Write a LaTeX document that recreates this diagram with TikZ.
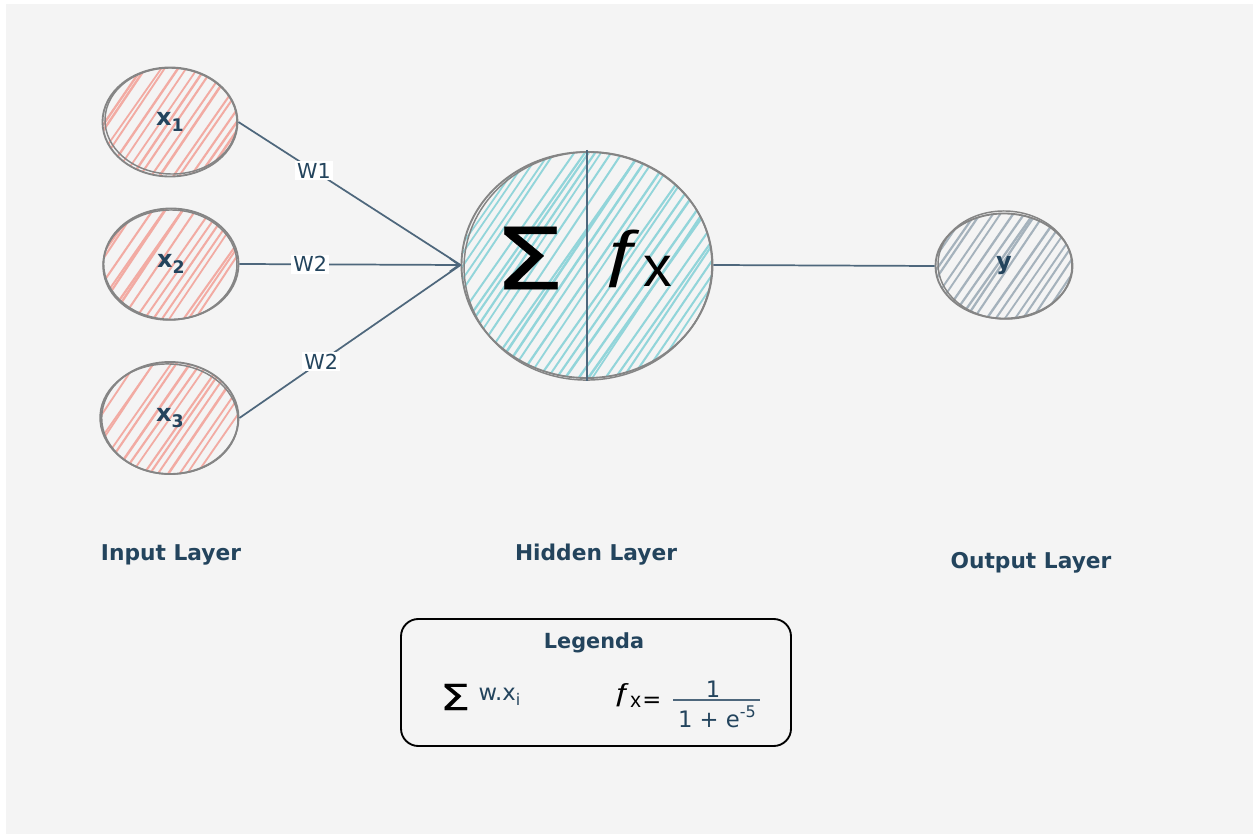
\documentclass[tikz,border=0pt]{standalone}
\usepackage{fontspec}
\setmainfont{DejaVu Sans}
\newfontfamily\glyphfont{Liberation Sans}
\newfontfamily\florinfont[FakeStretch=1.3]{Liberation Sans}
\newfontfamily\sigmafont[FakeStretch=1.33,FakeBold=0.35]{DejaVu Sans}
\usetikzlibrary{shapes.geometric,calc,arrows.meta}

\definecolor{bg}{HTML}{F4F4F4}
\definecolor{ink}{HTML}{23445D}
\definecolor{wire}{HTML}{4E677C}
\definecolor{rim}{HTML}{858585}
\definecolor{redh}{HTML}{F2ABA3}
\definecolor{cyanh}{HTML}{92D5DA}
\definecolor{grayh}{HTML}{A5B2BC}

\tikzset{
  % sketchy diagonal hatching clipped to the node outline
  hatch/.style={path picture={
    \foreach \k in {-32,...,32}{
      \pgfmathsetmacro\jx{rnd*4-2}
      \pgfmathsetmacro\jl{rnd*0.6+1.3}
      \pgfmathsetmacro\ja{rnd*16-8}
      \draw[#1, line width=\jl pt, line cap=round]
        ($(path picture bounding box.center)+(\k*9.5+\jx-117,170)$) -- ++(234+\ja,-340);
    }}},
  neuron/.style={ellipse, inner sep=0pt, draw=rim, line width=1.4pt},
  rimline/.style={draw=rim, line width=1.1pt},
  wire/.style={draw=wire, line width=1.3pt},
  wlabel/.style={fill=white, text=ink, inner sep=1.5pt, font=\fontsize{15.5}{17}\selectfont},
  nodetext/.style={text=ink, font=\fontsize{18}{21}\selectfont\bfseries},
  layertext/.style={text=ink, font=\fontsize{16.3}{19}\selectfont\bfseries},
  legendtext/.style={text=ink, font=\fontsize{17}{20}\selectfont},
}

\begin{document}
\begin{tikzpicture}[x=0.75pt,y=-0.75pt]
\pgfmathsetseed{11}
\useasboundingbox (0,0) rectangle (1257,834);
\fill[bg] (6,4) rectangle (1253,834);

% input neurons
\node[neuron, hatch=redh, minimum width=0.75pt*135, minimum height=0.75pt*109, nodetext] (x1) at (170,122)
  {\raisebox{-2pt}{x\raisebox{-0.4ex}{\fontsize{13}{15}\selectfont 1}}};
\node[neuron, hatch=redh, minimum width=0.75pt*135, minimum height=0.75pt*111, nodetext] (x2) at (171,264)
  {\raisebox{-2pt}{x\raisebox{-0.4ex}{\fontsize{13}{15}\selectfont 2}}};
\node[neuron, hatch=redh, minimum width=0.75pt*137, minimum height=0.75pt*112, nodetext] (x3) at (170,418)
  {\raisebox{-2pt}{x\raisebox{-0.4ex}{\fontsize{13}{15}\selectfont 3}}};

% hidden neuron
\node[neuron, hatch=cyanh, minimum width=0.75pt*251, minimum height=0.75pt*226] (h) at (587,265) {};

% output neuron
\node[neuron, hatch=grayh, minimum width=0.75pt*137, minimum height=0.75pt*105, nodetext] (y) at (1004,266)
  {\raisebox{-3pt}{y}};

% second pencil strokes around the neurons
\draw[rimline] (171,121) ellipse [x radius=66, y radius=53, rotate=-2];
\draw[rimline] (170,265) ellipse [x radius=67, y radius=55, rotate=2];
\draw[rimline] (169,419) ellipse [x radius=69, y radius=55, rotate=-3];
\draw[rimline] (588,266) ellipse [x radius=124, y radius=114, rotate=4];
\draw[rimline] (1005,265) ellipse [x radius=67, y radius=54, rotate=-2];

% split line of the hidden neuron
\coordinate (htop) at (587,150);
\coordinate (hbot) at (587,381);
\draw[wire] (htop) -- (hbot);

\node[font=\fontsize{64}{70}\selectfont\sigmafont, text=black] (sig) at (529,258) {Σ};
\node[text=black, anchor=base west, inner sep=0pt] (fx) at (601,287)
  {\fontsize{47}{52}\selectfont\florinfont\raisebox{0.2em}{ƒ}\kern-2pt\fontsize{43}{46}\selectfont\glyphfont x};

% connections
\draw[wire] (x1.east) -- node[wlabel, pos=0.34] {W1} (h.west);
\draw[wire, -{Straight Barb[length=7pt, width=10pt]}] (x2.east) -- node[wlabel, pos=0.32] {W2} (h.west);
\draw[wire] (x3.east) -- node[wlabel, pos=0.37] {W2} (h.west);
\draw[wire] (h.east) -- (y.west);

% layer captions
\node[layertext] (lin) at (171,555) {Input Layer};
\node[layertext] (lhid) at (596,555) {Hidden Layer};
\node[layertext] (lout) at (1031,563) {Output Layer};

% legend
\node[draw=black, line width=1.4pt, rounded corners=13pt, fill=bg,
      minimum width=0.75pt*390, minimum height=0.75pt*127] (leg) at (596,682.5) {};
\node[layertext, font=\fontsize{15.6}{18}\selectfont\bfseries] (legt) at (594,643) {Legenda};
\node[font=\fontsize{27}{30}\selectfont\sigmafont, text=black] (lsig) at (455,697) {Σ};
\node[legendtext, anchor=west] (lsum) at (474,697) {w.x\raisebox{-0.45ex}{\fontsize{12}{14}\selectfont i}};
\node[text=black, anchor=base west, inner sep=0pt] (lfx) at (613,707)
  {\fontsize{19}{22}\selectfont\florinfont\raisebox{0.2em}{ƒ}\kern-1pt\fontsize{16}{20}\selectfont\glyphfont x\kern1pt\fontsize{17}{20}\selectfont\rmfamily=};
\node[legendtext] (num) at (713,689) {1};
\coordinate (barl) at (673,700);
\coordinate (barr) at (760,700);
\draw[wire] (barl) -- (barr);
\node[legendtext] (den) at (717,717) {1 + e\raisebox{0.8ex}{\fontsize{12}{14}\selectfont -5}};
\end{tikzpicture}
\end{document}
